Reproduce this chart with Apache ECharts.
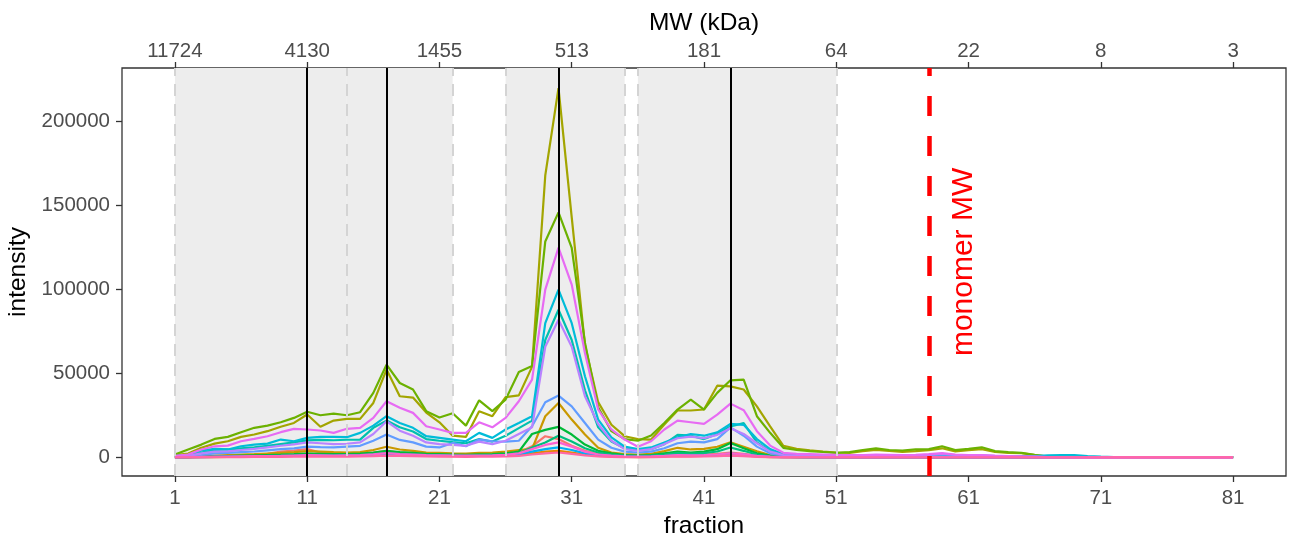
<!DOCTYPE html>
<html>
<head>
<meta charset="utf-8">
<script src="https://cdn.jsdelivr.net/npm/echarts@6/dist/echarts.min.js"></script>
<style>
  html, body { margin: 0; padding: 0; background: #fff; }
  #chart { width: 1294px; height: 539px; }
</style>
</head>
<body>
<div id="chart"></div>
<script>
// fractions 1..81
const fractions = Array.from({ length: 81 }, (_, i) => i + 1);
const fractionTicks = [1, 11, 21, 31, 41, 51, 61, 71, 81];
const mwLabels = ['11724', '4130', '1455', '513', '181', '64', '22', '8', '3'];
const intensityTicks = [0, 50000, 100000, 150000, 200000];

// shaded fraction windows and markers
const windows = [[1, 14], [14, 22], [26, 35], [36, 51]];
const windowEdges = [1, 14, 22, 26, 35, 36, 51];
const peakFractions = [11, 17, 30, 43];
const monomerFraction = 58;

const tail = (v, n) => new Array(n).fill(v);

// intensity per protein (one value per fraction)
const sK = [100, 200, 500, 700, 900, 1200, 1600, 2200, 3500, 4200,
  5000, 3000, 2200, 2100, 2300, 3000, 3800, 3000, 2600, 2000,
  1800, 1600, 1500, 1700, 1800, 2200, 3000, 6700, 12700, 11000,
  7000, 4000, 2200, 1300, 900, 700, 800, 1200, 1700, 1500,
  1700, 2200, 3000, 2200, 1200, 600, 300, 200, 200, 100,
  ...tail(100, 31)];
const sN = [50, 100, 200, 300, 400, 500, 600, 700, 800, 900,
  1000, 900, 900, 900, 1000, 1300, 1800, 1400, 1200, 1000,
  900, 800, 800, 900, 900, 1100, 1500, 2500, 3500, 4000,
  3000, 1800, 1000, 600, 400, 300, 400, 600, 900, 800,
  900, 1100, 1600, 1200, 600, 300, 200, 100, 100, 100,
  ...tail(50, 31)];
const sH = [200, 400, 800, 1200, 1500, 1800, 2000, 2400, 2800, 3200,
  3800, 3500, 3200, 3000, 3200, 4500, 6400, 4800, 4000, 3000,
  2800, 2500, 2300, 2800, 3000, 3500, 4500, 5000, 24600, 32500,
  22600, 13700, 5800, 3000, 2000, 1700, 2200, 3800, 5800, 4800,
  5200, 6400, 9100, 6400, 3700, 1500, 700, 500, 400, 300,
  ...tail(300, 10), ...tail(200, 21)];
const sA = [1500, 2400, 5800, 8300, 9700, 12300, 13700, 15700, 18300, 20600,
  25600, 18300, 22000, 23000, 23000, 32500, 52400, 36500, 35700, 26800,
  21000, 13000, 12300, 27600, 24600, 36000, 37000, 54000, 168000, 220000,
  143000, 67000, 33000, 19500, 12700, 11000, 10700, 19600, 28000, 28000,
  28600, 42800, 42400, 40500, 30500, 18600, 7000, 5200, 4300, 3600,
  3000, 2800, 3800, 4600, 4000, 3400, 3800, 4400, 5500, 3600,
  4400, 5000, 3400, 2800, 2600, 1500, 600, 300, 200, 200,
  ...tail(200, 11)];
const sB = [1800, 4800, 7700, 11100, 12300, 15100, 17700, 19000, 21000, 23600,
  27300, 25200, 26200, 25200, 27000, 38500, 55300, 44400, 40500, 27600,
  23800, 26400, 19000, 34100, 27600, 34500, 51000, 54500, 128700, 146000,
  124800, 68400, 30000, 15700, 11000, 10000, 13100, 20600, 28600, 34500,
  28600, 38500, 46000, 46400, 24600, 14700, 5800, 4500, 3800, 3300,
  2800, 3200, 4500, 5400, 4500, 4200, 4800, 5000, 6700, 4400,
  5200, 6100, 3800, 3200, 2800, 1600, 500, 300, 200, 200,
  ...tail(200, 11)];
const sI = [200, 300, 600, 800, 900, 1100, 1300, 1500, 1700, 2000,
  2400, 2200, 2000, 2100, 2400, 3000, 4000, 3200, 2800, 2200,
  2000, 1800, 1600, 1900, 2000, 2500, 3500, 14000, 16500, 18300,
  13700, 7700, 4000, 2500, 1500, 1200, 1500, 2500, 3500, 3000,
  3500, 5000, 8700, 5500, 2500, 1200, 600, 400, 300, 300,
  ...tail(200, 31)];
const sJ = [100, 200, 400, 600, 700, 800, 900, 1000, 1200, 1300,
  1500, 1400, 1300, 1400, 1500, 2000, 2800, 2200, 1900, 1500,
  1400, 1300, 1200, 1300, 1400, 1800, 2500, 6000, 9000, 13000,
  9500, 5500, 3000, 1800, 1100, 900, 1100, 1800, 2600, 2300,
  2600, 3600, 6000, 4000, 1800, 900, 500, 300, 200, 200,
  ...tail(100, 31)];
const sE = [600, 1200, 3000, 4500, 4800, 5500, 6000, 7000, 8000, 9000,
  10200, 10500, 10300, 10600, 10700, 17700, 22000, 18000, 15500, 11000,
  10000, 9200, 8500, 11000, 9500, 13000, 17500, 22000, 70000, 88000,
  70000, 40000, 18000, 9500, 5500, 4500, 5000, 8000, 13500, 13000,
  11000, 14000, 18500, 20500, 9000, 4000, 1500, 1000, 900, 800,
  700, 700, 600, 600, 600, 600, 700, 700, 800, 700,
  700, 800, 700, 600, 500, 500, 500, 400, 300, 200,
  ...tail(200, 11)];
const sD = [800, 1500, 4200, 5200, 4800, 6700, 7700, 8300, 10700, 9700,
  11700, 12300, 12300, 12100, 14700, 19000, 24600, 20600, 17700, 12700,
  11700, 10700, 9700, 14700, 11700, 16700, 20600, 24600, 80000, 100000,
  80000, 48400, 22600, 12000, 6500, 5000, 6000, 9000, 12000, 14000,
  13000, 15000, 20000, 19500, 11000, 5000, 2000, 1500, 1300, 1200,
  1000, 900, 900, 800, 800, 800, 900, 900, 1000, 900,
  1000, 1100, 900, 700, 800, 900, 1300, 1500, 1400, 900,
  500, 300, ...tail(200, 9)];
const sM = [100, 200, 300, 400, 500, 600, 700, 800, 900, 1000,
  1200, 1100, 1000, 1100, 1200, 1600, 2200, 1700, 1500, 1200,
  1100, 1000, 900, 1000, 1100, 1300, 2000, 3500, 5000, 6000,
  4500, 2500, 1400, 900, 600, 500, 600, 900, 1200, 1100,
  1200, 1600, 2400, 1800, 900, 400, 200, 200, 100, 100,
  ...tail(100, 31)];
const sG = [400, 800, 1500, 2500, 2800, 3200, 3600, 4300, 5000, 5500,
  6500, 6200, 6000, 6500, 7000, 10000, 13700, 10500, 9000, 6500,
  6000, 8700, 6700, 10700, 9700, 9500, 10000, 18600, 32900, 36900,
  30500, 20600, 10700, 5800, 3500, 3000, 3500, 5500, 8500, 9500,
  9000, 11000, 18000, 13000, 6500, 2500, 1200, 800, 700, 600,
  ...tail(500, 10), ...tail(300, 21)];
const sF = [500, 1000, 2500, 3500, 3700, 4500, 5200, 6000, 7000, 7800,
  9000, 8500, 8000, 8200, 9000, 14000, 21600, 16000, 13000, 9000,
  8000, 7500, 7000, 9500, 8000, 10000, 14000, 18000, 66000, 82000,
  66000, 36500, 20000, 10000, 5000, 4000, 5000, 8000, 11500, 12500,
  11500, 13500, 17500, 14000, 8500, 3500, 1500, 1000, 900, 800,
  800, 800, 900, 1000, 1100, 1200, 1400, 1600, 2200, 1500,
  1300, 1200, 900, 700, 500, 400, 300, 200, 200, 100,
  ...tail(100, 11)];
const sC = [1000, 1800, 4800, 6700, 7100, 9700, 11100, 12700, 15100, 17100,
  16700, 16100, 14700, 17100, 17700, 23600, 33500, 29600, 26600, 18600,
  16700, 14700, 14700, 21000, 18000, 23600, 33500, 46400, 100000, 125000,
  103000, 62300, 28600, 16700, 10700, 6400, 9700, 16700, 22000, 21000,
  20000, 25600, 32100, 28200, 15700, 7100, 2800, 2200, 2000, 1800,
  1600, 1500, 1500, 1700, 1600, 1500, 1600, 2000, 2600, 1800,
  1500, 1400, 1100, 900, 700, 500, 300, 200, 100, 100,
  ...tail(100, 11)];
const sL = [100, 200, 400, 500, 600, 700, 800, 900, 1000, 1200,
  1400, 1300, 1200, 1300, 1400, 1900, 2600, 2000, 1700, 1400,
  1300, 1200, 1100, 1200, 1300, 1600, 2500, 5000, 7500, 9000,
  6500, 3500, 1800, 1100, 700, 600, 700, 1000, 1400, 1300,
  1400, 1800, 2500, 1900, 1000, 500, 300, 200, 200, 100,
  ...tail(100, 31)];
const sO = [50, 100, 150, 200, 250, 300, 350, 400, 450, 500,
  600, 550, 500, 550, 600, 800, 1100, 900, 800, 600,
  550, 500, 450, 500, 550, 700, 1000, 1800, 2500, 3000,
  2200, 1300, 700, 400, 300, 250, 300, 400, 600, 550,
  600, 800, 1100, 800, 400, 200, 100, 100, 100, 100,
  ...tail(100, 31)];

const proteins = [
  ['P01', sK, '#F8766D'], ['P02', sN, '#E58700'], ['P03', sH, '#C99800'],
  ['P04', sA, '#A3A500'], ['P05', sB, '#6BB100'], ['P06', sI, '#00BA38'],
  ['P07', sJ, '#00BF7D'], ['P08', sE, '#00C0AF'], ['P09', sD, '#00BCD8'],
  ['P10', sM, '#00B0F6'], ['P11', sG, '#619CFF'], ['P12', sF, '#B983FF'],
  ['P13', sC, '#E76BF3'], ['P14', sL, '#FD61D1'], ['P15', sO, '#FF67A4']
];

const tickText = { fontSize: 20.5, color: '#4d4d4d', fontFamily: 'Liberation Sans' };
const titleText = { fontSize: 24.5, color: '#000', fontFamily: 'Liberation Sans' };
const tickLine = { show: true, length: 6, lineStyle: { color: '#333', width: 1.3 } };

const chart = echarts.init(document.getElementById('chart'));

const series = [
  {
    name: 'bg', type: 'line', data: [], z: 1, silent: true,
    markArea: {
      silent: true,
      itemStyle: { color: '#ededed' },
      data: windows.map(w => [{ xAxis: w[0] }, { xAxis: w[1] }])
    },
    markLine: {
      silent: true, symbol: 'none', label: { show: false },
      lineStyle: { color: '#d4d4d4', width: 2, type: [12, 8] },
      data: windowEdges.map(e => ({ xAxis: e }))
    }
  }
];

proteins.forEach(p => {
  series.push({
    name: p[0], type: 'line', z: 2,
    showSymbol: false, symbol: 'none',
    lineStyle: { width: 2.2, color: p[2] },
    itemStyle: { color: p[2] },
    data: fractions.map((f, i) => [f, p[1][i]])
  });
});

series.push({
  name: 'fg', type: 'line', data: [], z: 5, silent: true,
  markLine: {
    silent: true, symbol: 'none', label: { show: false },
    data: [
      ...peakFractions.map(f => ({ xAxis: f, lineStyle: { color: '#000', width: 2, type: 'solid' } })),
      { xAxis: monomerFraction, lineStyle: { color: '#ff0000', width: 4.5, type: [20, 20] } }
    ]
  },
  markPoint: {
    silent: true, symbol: 'rect', symbolSize: 1,
    itemStyle: { color: 'rgba(0,0,0,0)' },
    label: {
      show: true, formatter: 'monomer MW', rotate: 90, position: 'inside',
      fontSize: 30, color: '#ff0000', fontFamily: 'Liberation Sans'
    },
    data: [{ coord: [60.65, 116500] }]
  }
});

const option = {
  animation: false,
  backgroundColor: '#fff',
  grid: {
    left: 122, right: 8, top: 68, bottom: 63,
    outerBoundsMode: 'none', containLabel: false,
    show: true, borderColor: '#333', borderWidth: 1.3, backgroundColor: 'transparent'
  },
  xAxis: [
    {
      type: 'value', position: 'bottom', min: -3, max: 85,
      splitLine: { show: false }, axisLine: { show: false, onZero: false },
      axisTick: { ...tickLine, customValues: fractionTicks },
      axisLabel: { ...tickText, margin: 12, customValues: fractionTicks },
      name: 'fraction', nameLocation: 'middle', nameGap: 32, nameTextStyle: titleText
    },
    {
      type: 'value', position: 'top', min: -3, max: 85,
      splitLine: { show: false }, axisLine: { show: false, onZero: false },
      axisTick: { ...tickLine, customValues: fractionTicks },
      axisLabel: {
        ...tickText, margin: 6, customValues: fractionTicks,
        formatter: v => mwLabels[fractionTicks.indexOf(v)]
      },
      name: 'MW (kDa)', nameLocation: 'middle', nameGap: 30, nameTextStyle: titleText
    }
  ],
  yAxis: {
    type: 'value', min: -11000, max: 232000,
    splitLine: { show: false }, axisLine: { show: false, onZero: false },
    axisTick: { ...tickLine, customValues: intensityTicks },
    axisLabel: { ...tickText, margin: 12, customValues: intensityTicks, formatter: v => String(v) },
    name: 'intensity', nameLocation: 'middle', nameGap: 86, nameTextStyle: titleText
  },
  series: series
};

chart.setOption(option);
</script>
</body>
</html>
